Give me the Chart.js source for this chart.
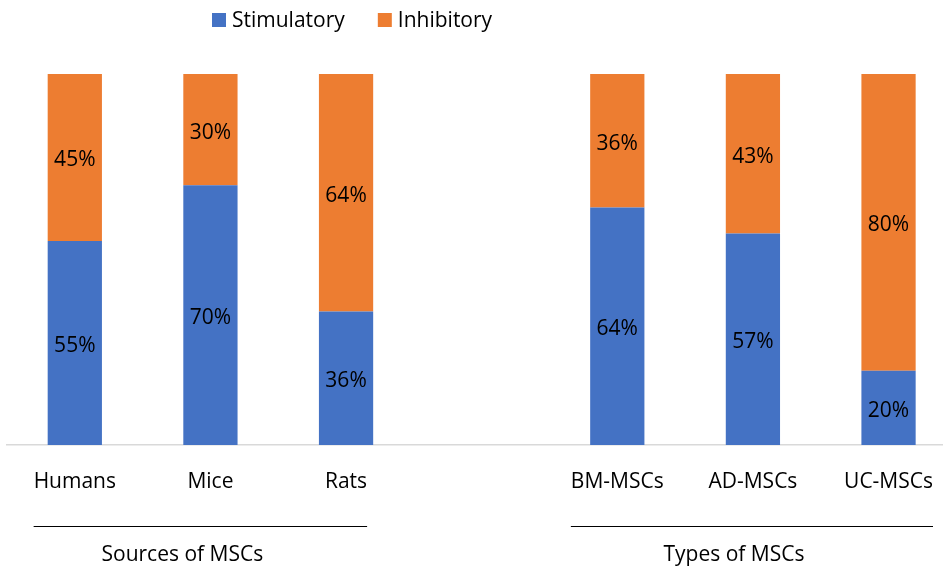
<!DOCTYPE html>
<html>
<head>
<meta charset="utf-8">
<script src="https://cdn.jsdelivr.net/npm/chart.js@4/dist/chart.umd.min.js"></script>
<style>
  html, body { margin: 0; padding: 0; background: #fff; overflow: hidden; }
  #wrap { width: 943px; height: 569px; overflow: hidden; }
  canvas { display: block; }
</style>
</head>
<body>
<div id="wrap"><canvas id="c" width="957" height="569"></canvas></div>
<script>
// Categories (blank slot separates the two groups)
const categories = ['Humans', 'Mice', 'Rats', '', 'BM-MSCs', 'AD-MSCs', 'UC-MSCs'];
// Percentages per category
const stimulatory = [55, 70, 36, null, 64, 57, 20];
const inhibitory  = [45, 30, 64, null, 36, 43, 80];
// Second-level category groups
const groupNames = ['Sources of MSCs', 'Types of MSCs'];
const groupFirst = [0, 4];
const groupLast  = [2, 6];

const FONT = '"Open Sans", "Noto Sans", sans-serif';
const FSIZE = 21;
const BLUE = '#4472C4';
const ORANGE = '#ED7D31';

// Percentage labels centred inside each bar segment
const segmentLabels = {
  id: 'segmentLabels',
  afterDatasetsDraw(chart) {
    const ctx = chart.ctx;
    ctx.save();
    ctx.font = FSIZE + 'px ' + FONT;
    ctx.fillStyle = '#000';
    ctx.textAlign = 'center';
    ctx.textBaseline = 'middle';
    chart.data.datasets.forEach((ds, di) => {
      const meta = chart.getDatasetMeta(di);
      meta.data.forEach((el, i) => {
        const v = ds.data[i];
        if (v === null || v === undefined) return;
        const p = el.getProps(['x', 'y', 'base'], true);
        ctx.fillText(v + '%', p.x, (p.y + p.base) / 2 + 3);
      });
    });
    ctx.restore();
  }
};

// Legend row and grouped category captions
const decorations = {
  id: 'decorations',
  afterDraw(chart) {
    const ctx = chart.ctx;
    const xs = chart.scales.x;
    ctx.save();
    ctx.font = FSIZE + 'px ' + FONT;
    ctx.textBaseline = 'middle';
    ctx.textAlign = 'left';

    // legend
    let lx = 212;
    chart.data.datasets.forEach((ds) => {
      ctx.fillStyle = ds.backgroundColor;
      ctx.fillRect(lx, 13, 14, 14);
      lx += 20;
      ctx.fillStyle = '#000';
      ctx.fillText(ds.label, lx, 21.5);
      lx += ctx.measureText(ds.label).width + 33;
    });

    // group lines and captions
    ctx.textAlign = 'center';
    groupNames.forEach((name, g) => {
      const a = groupFirst[g], b = groupLast[g];
      const xa = xs.getPixelForValue(a) - ctx.measureText(categories[a]).width / 2;
      const xb = xs.getPixelForValue(b) + ctx.measureText(categories[b]).width / 2;
      ctx.strokeStyle = '#000';
      ctx.lineWidth = 1;
      ctx.beginPath();
      ctx.moveTo(xa, 526.5);
      ctx.lineTo(xb, 526.5);
      ctx.stroke();
      ctx.fillStyle = '#000';
      ctx.fillText(name, (xa + xb) / 2 - 18, 555);
    });
    ctx.restore();
  }
};

new Chart(document.getElementById('c'), {
  type: 'bar',
  data: {
    labels: categories,
    datasets: [
      { label: 'Stimulatory', data: stimulatory, backgroundColor: BLUE, borderWidth: 0 },
      { label: 'Inhibitory', data: inhibitory, backgroundColor: ORANGE, borderWidth: 0 }
    ]
  },
  options: {
    responsive: false,
    animation: false,
    devicePixelRatio: 1,
    categoryPercentage: 1,
    barPercentage: 0.4,
    layout: { padding: { left: 7, right: 0, top: 74, bottom: 0 } },
    plugins: { legend: { display: false }, tooltip: { enabled: false } },
    scales: {
      x: {
        stacked: true,
        grid: { display: false, drawTicks: false },
        border: { display: true, color: '#D9D9D9', width: 1.5 },
        ticks: { color: '#000', font: { family: FONT, size: FSIZE }, padding: 24, autoSkip: false, maxRotation: 0 },
        afterFit(scale) { scale.height = 124; }
      },
      y: { stacked: true, min: 0, max: 100, display: false }
    }
  },
  plugins: [segmentLabels, decorations]
});
</script>
</body>
</html>
